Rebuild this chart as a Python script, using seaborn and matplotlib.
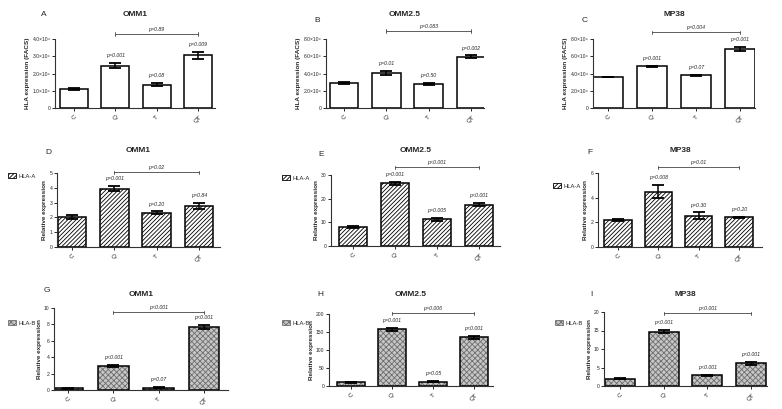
import numpy as np
import pandas as pd
import seaborn as sns
import matplotlib.pyplot as plt
from matplotlib.patches import Patch, Rectangle

groups = ["C", "Q", "T", "QT"]

# FACS (values in units of 10^4)
facs_omm1 = [1.12, 2.45, 1.35, 3.05]
facs_omm1_err = [0.06, 0.15, 0.08, 0.22]
facs_omm25 = [2.9, 4.1, 2.75, 5.95]
facs_omm25_err = [0.15, 0.22, 0.12, 0.15]
facs_mp38 = [3.6, 4.85, 3.8, 6.85]
facs_mp38_err = [0.03, 0.06, 0.08, 0.2]

# HLA-A relative expression
hlaa_omm1 = [2.0, 3.95, 2.3, 2.8]
hlaa_omm1_err = [0.13, 0.15, 0.1, 0.2]
hlaa_omm25 = [8.0, 26.5, 11.2, 17.5]
hlaa_omm25_err = [0.4, 0.6, 0.7, 0.6]
hlaa_mp38 = [2.2, 4.5, 2.55, 2.4]
hlaa_mp38_err = [0.1, 0.5, 0.25, 0.05]

# HLA-B relative expression
hlab_omm1 = [0.2, 2.9, 0.3, 7.7]
hlab_omm1_err = [0.05, 0.12, 0.04, 0.25]
hlab_omm25 = [10, 158, 12, 135]
hlab_omm25_err = [1.5, 4, 1.5, 4]
hlab_mp38 = [2.0, 14.7, 2.9, 6.1]
hlab_mp38_err = [0.1, 0.5, 0.15, 0.35]

# p values above bars (Q, T, QT) and on the Q-QT bracket
p_a = ["p=0.001", "p=0.08", "p=0.009"]; br_a = "p=0.89"
p_b = ["p=0.01", "p=0.50", "p=0.002"]; br_b = "p=0.083"
p_c = ["p=0.001", "p=0.07", "p=0.001"]; br_c = "p=0.004"
p_d = ["p=0.001", "p=0.20", "p=0.84"]; br_d = "p=0.02"
p_e = ["p=0.001", "p=0.005", "p<0.001"]; br_e = "p<0.001"
p_f = ["p=0.008", "p=0.30", "p=0.20"]; br_f = "p=0.01"
p_g = ["p<0.001", "p=0.07", "p<0.001"]; br_g = "p<0.001"
p_h = ["p=0.001", "p=0.05", "p<0.001"]; br_h = "p=0.006"
p_i = ["p<0.001", "p<0.001", "p<0.001"]; br_i = "p<0.001"

facs_ticks = [0, 1, 2, 3, 4]
facs_ticklabels = ["0", "1.0×10⁴", "2.0×10⁴", "3.0×10⁴", "4.0×10⁴"]
facs2_ticks = [0, 2, 4, 6, 8]
facs2_ticklabels = ["0", "2.0×10⁴", "4.0×10⁴", "6.0×10⁴", "8.0×10⁴"]

W, H = 782, 409
sns.set_style("ticks")
plt.rcParams["font.family"] = ["Liberation Sans", "DejaVu Sans"]
plt.rcParams["hatch.linewidth"] = 0.6

fig = plt.figure(figsize=(W / 100, H / 100), dpi=100)

styles = {
    None: dict(face="white", hatch=None, hatch_col="black"),
    "HLA-A": dict(face="white", hatch="////////", hatch_col="black"),
    "HLA-B": dict(face="#c6c6c6", hatch="xxxxxx", hatch_col="#6e6e6e"),
}

# letter, title, values, errors, p labels, bracket, yticks, yticklabels, ylabel, legend
# geometry (px): axis left, axis right, centre C, centre QT, top, bottom, bracket y,
# letter xy, title y, legend xy
panels = [
    ("A", "OMM1", facs_omm1, facs_omm1_err, p_a, br_a, facs_ticks, facs_ticklabels,
     "HLA expression (FACS)", None,
     (55, 215, 74, 198, 39, 108, 34, (41, 14), 14, None)),
    ("B", "OMM2.5", facs_omm25, facs_omm25_err, p_b, br_b, facs2_ticks, facs2_ticklabels,
     "HLA expression (FACS)", None,
     (326, 484, 344, 471, 39, 108, 31, (314, 20), 14, None)),
    ("C", "MP38", facs_mp38, facs_mp38_err, p_c, br_c, facs2_ticks, facs2_ticklabels,
     "HLA expression (FACS)", None,
     (593, 755, 608, 740, 39, 108, 32, (582, 20), 14, None)),
    ("D", "OMM1", hlaa_omm1, hlaa_omm1_err, p_d, br_d, [0, 1, 2, 3, 4, 5], None,
     "Relative expression", "HLA-A",
     (57, 220, 72, 199, 173, 247, 172, (45, 152), 150, (8, 176))),
    ("E", "OMM2.5", hlaa_omm25, hlaa_omm25_err, p_e, br_e, [0, 10, 20, 30], None,
     "Relative expression", "HLA-A",
     (331, 500, 353, 479, 175, 246, 167, (318, 155), 150, (282, 178))),
    ("F", "MP38", hlaa_mp38, hlaa_mp38_err, p_f, br_f, [0, 2, 4, 6], None,
     "Relative expression", "HLA-A",
     (598, 762, 618, 739, 173, 247, 167, (587, 153), 150, (553, 186))),
    ("G", "OMM1", hlab_omm1, hlab_omm1_err, p_g, br_g, [0, 2, 4, 6, 8, 10], None,
     "Relative expression", "HLA-B",
     (54, 228, 68, 204, 308, 390, 312, (44, 290), 294, (8, 323))),
    ("H", "OMM2.5", hlab_omm25, hlab_omm25_err, p_h, br_h, [0, 50, 100, 150, 200], None,
     "Relative expression", "HLA-B",
     (329, 493, 351, 474, 314, 386, 313, (317, 295), 294, (282, 323))),
    ("I", "MP38", hlab_mp38, hlab_mp38_err, p_i, br_i, [0, 5, 10, 15, 20], None,
     "Relative expression", "HLA-B",
     (604, 767, 620, 751, 312, 386, 313, (590, 295), 294, (555, 323))),
]

for letter, title, vals, errs, pl, br, yt, ytl, ylab, leg, geo in panels:
    left, right, cC, cQT, top, bottom, by, lxy, ty, legxy = geo
    sp = (cQT - cC) / 3
    ymax = yt[-1]
    ax = fig.add_axes([left / W, 1 - bottom / H, (right - left) / W, (bottom - top) / H])
    st = styles[leg]
    df = pd.DataFrame({"group": groups, "value": vals})
    sns.barplot(data=df, x="group", y="value", ax=ax, color=st["face"], saturation=1,
                edgecolor=st["hatch_col"], linewidth=0, width=0.68, errorbar=None)
    for p in list(ax.patches):
        if st["hatch"]:
            p.set_hatch(st["hatch"])
        # black outline on top of the (possibly grey) hatch
        ax.add_patch(Rectangle(p.get_xy(), p.get_width(), p.get_height(), fill=False,
                               edgecolor="black", linewidth=1.1, zorder=p.get_zorder() + 0.1))
    ax.errorbar(range(4), vals, yerr=errs, fmt="none", ecolor="black",
                elinewidth=1.1, capsize=4.5, capthick=1.3, clip_on=False, zorder=5)
    ax.set_xlim((left - cC) / sp, (right - cC) / sp)
    ax.set_ylim(0, ymax)
    ax.set_yticks(yt)
    if ytl:
        ax.set_yticklabels(ytl)
    ax.set_xlabel("")
    ax.set_ylabel(ylab, fontsize=4.6, fontweight="bold", labelpad=1.5)
    ax.tick_params(axis="y", labelsize=3.6, length=2.5, width=0.7, pad=0.8)
    ax.tick_params(axis="x", labelsize=4.6, length=2.5, width=0.7, pad=2)
    for lab in ax.get_xticklabels():
        lab.set_rotation(45)
    sns.despine(ax=ax)
    for s in ("left", "bottom"):
        ax.spines[s].set_linewidth(0.8)
        ax.spines[s].set_color("#333333")

    # p values above bars
    for i, txt in zip([1, 2, 3], pl):
        ax.annotate(txt, (i, vals[i] + errs[i]), xytext=(0, 3.5), textcoords="offset points",
                    ha="center", va="bottom", fontsize=3.8, fontstyle="italic",
                    annotation_clip=False)

    # bracket between Q and QT
    yb = ymax * (bottom - by) / (bottom - top)
    tick = ymax * 1.5 / (bottom - top)
    ax.plot([1, 3], [yb, yb], color="#444444", lw=0.6, clip_on=False)
    ax.plot([1, 1], [yb - tick, yb + tick], color="#444444", lw=0.6, clip_on=False)
    ax.plot([3, 3], [yb - tick, yb + tick], color="#444444", lw=0.6, clip_on=False)
    ax.text(2, yb + tick * 1.3, br, ha="center", va="bottom", fontsize=3.8,
            fontstyle="italic")

    fig.text((left + right) / 2 / W, 1 - ty / H, title, ha="center", va="center",
             fontsize=6, fontweight="bold")
    fig.text(lxy[0] / W, 1 - lxy[1] / H, letter, ha="left", va="center", fontsize=6)

    if leg:
        handle = Patch(facecolor=st["face"], edgecolor=st["hatch_col"], hatch=st["hatch"],
                       linewidth=0.6, label=leg)
        fig.legend(handles=[handle], loc="center left",
                   bbox_to_anchor=(legxy[0] / W, 1 - legxy[1] / H), frameon=False,
                   fontsize=4.2, handlelength=1.3, handleheight=0.9, handletextpad=0.5,
                   borderpad=0, borderaxespad=0)

fig.savefig("out.png", dpi=100)
